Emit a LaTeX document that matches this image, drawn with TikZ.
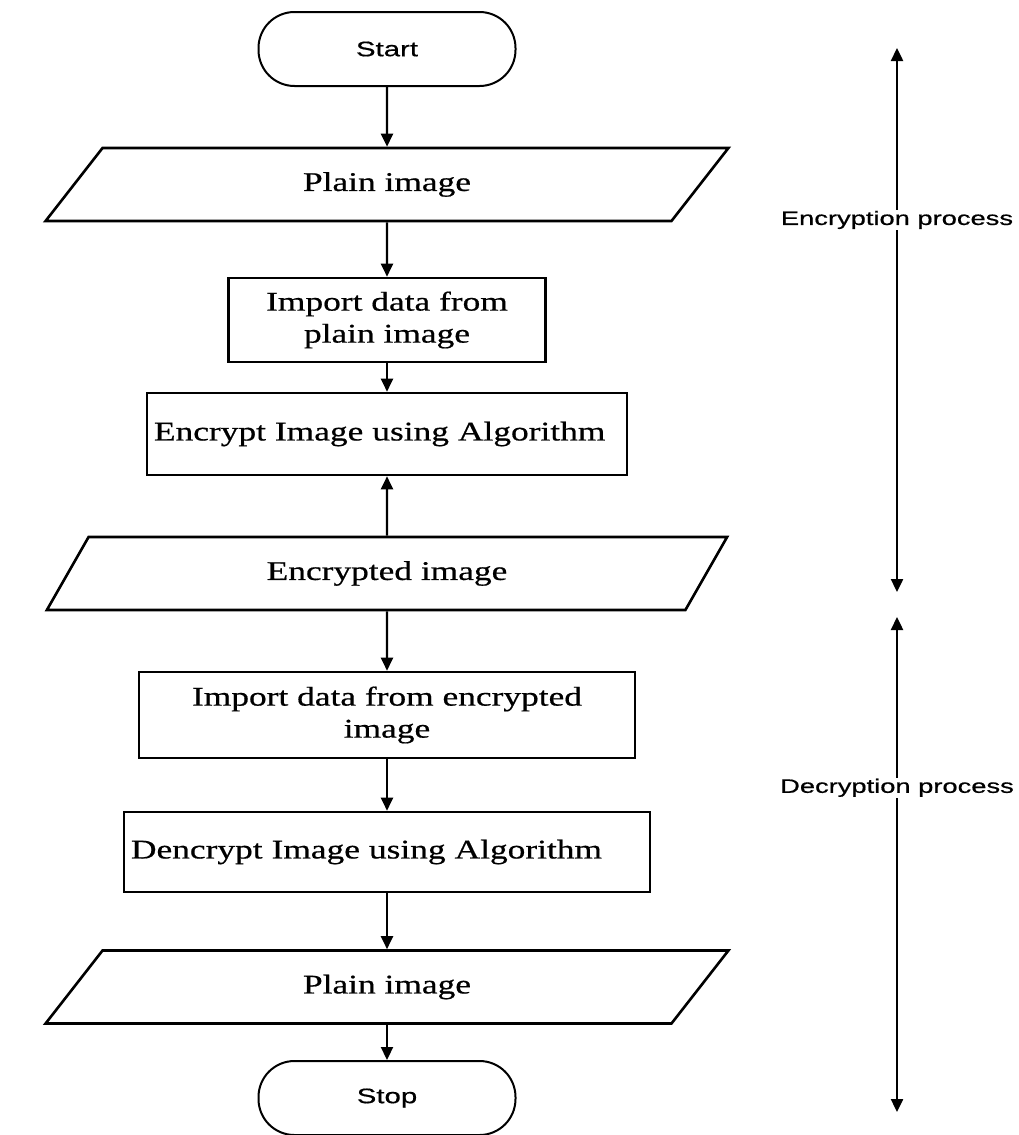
\documentclass[tikz,border=0pt]{standalone}
\usepackage{fontspec}
\newfontfamily\boxfont[FakeStretch=1.31,FakeBold=0.6]{Liberation Serif}
\newfontfamily\labfont[FakeStretch=1.4,FakeBold=0.6]{Liberation Sans}
\usetikzlibrary{arrows.meta,shapes.geometric}

\begin{document}
\begin{tikzpicture}[
  x=1pt, y=-1pt,
  term/.style={draw, rounded corners=36pt, line width=2pt, minimum width=257pt, minimum height=74pt, inner sep=0pt, font=\labfont\fontsize{21}{24}\selectfont},
  io/.style={draw, trapezium, trapezium left angle=55.6, trapezium right angle=124.4, trapezium stretches=true, line width=2.6pt, minimum width=683pt, minimum height=73pt, inner sep=0pt, font=\boxfont\fontsize{27}{32}\selectfont},
  proc/.style={draw, line width=2.6pt, align=center, inner sep=0pt, font=\boxfont\fontsize{27}{32}\selectfont},
  procl/.style={proc, align=left, inner xsep=7pt},
  ar/.style={-{Triangle[length=13pt,width=12pt]}, line width=2.2pt},
  span/.style={{Triangle[length=13pt,width=12pt]}-{Triangle[length=13pt,width=12pt]}, line width=2.4pt},
  lab/.style={fill=white, inner sep=1pt, font=\labfont\fontsize{19.5}{22}\selectfont}
]
\useasboundingbox (0,0) rectangle (1019,1135);
\node[term] (start) at (387,49) {Start};
\node[io] (plainA) at (387,184.5) {Plain image};
\node[proc, minimum width=317pt, minimum height=84pt] (importA) at (387,320) {Import data from\\plain image};
\node[procl, text width=466pt, minimum height=82pt] (encrypt) at (387,434) {Encrypt Image using Algorithm};
\node[io] (cipher) at (387,573.5) {Encrypted image};
\node[proc, minimum width=496pt, minimum height=86pt] (importB) at (387,715) {Import data from encrypted\\image};
\node[procl, text width=512pt, minimum height=80pt] (decrypt) at (387,852) {Dencrypt Image using Algorithm};
\node[io] (plainB) at (387,987) {Plain image};
\node[term] (stop) at (387,1098) {Stop};
\draw[ar] (start) -- (plainA);
\draw[ar] (plainA) -- (importA);
\draw[ar] (importA) -- (encrypt);
\draw[ar] (cipher) -- (encrypt);
\draw[ar] (cipher) -- (importB);
\draw[ar] (importB) -- (decrypt);
\draw[ar] (decrypt) -- (plainB);
\draw[ar] (plainB) -- (stop);
% process spans on the right
\coordinate (encTop) at (897,48);
\coordinate (encBot) at (897,592);
\coordinate (decTop) at (897,617);
\coordinate (decBot) at (897,1112);
\draw[span] (encTop) -- node[lab, pos=0.316] (encLab) {Encryption process} (encBot);
\draw[span] (decTop) -- node[lab, pos=0.345] (decLab) {Decryption process} (decBot);
\end{tikzpicture}
\end{document}
